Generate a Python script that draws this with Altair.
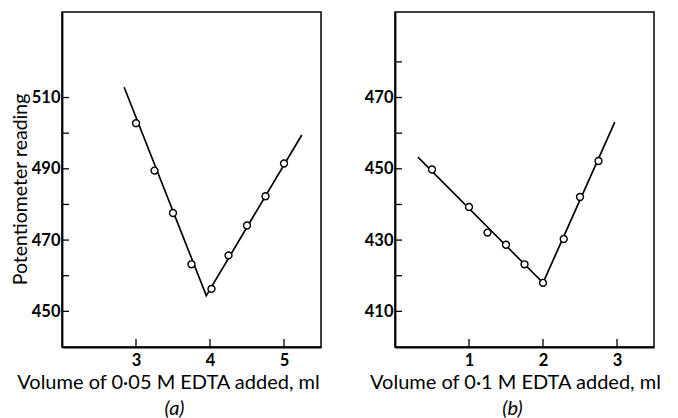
import altair as alt
import pandas as pd

FONT = "Lato"
W, H = 259, 335

# Panel (a): 0.05 M EDTA
a_vol = [3.0, 3.25, 3.5, 3.75, 4.02, 4.25, 4.5, 4.75, 5.0]
a_read = [502.8, 489.5, 477.6, 463.2, 456.3, 465.7, 474.1, 482.3, 491.5]
a_line_vol = [2.84, 3.95, 5.24]
a_line_read = [512.9, 454.4, 499.5]
a_xdom = [2.0, 5.5]
a_ydom = [440, 534]
a_xticks = [3, 4, 5]
a_yticks = [450, 460, 470, 480, 490, 500, 510]

# Panel (b): 0.1 M EDTA
b_vol = [0.5, 1.0, 1.25, 1.5, 1.75, 2.0, 2.28, 2.5, 2.75]
b_read = [449.8, 439.3, 432.1, 428.7, 423.2, 418.0, 430.3, 442.1, 452.2]
b_line_vol = [0.31, 2.0, 2.97]
b_line_read = [453.3, 418.0, 463.1]
b_xdom = [0.0, 3.5]
b_ydom = [400, 494]
b_xticks = [1, 2, 3]
b_yticks = [410, 420, 430, 440, 450, 460, 470, 480]


def panel(px, py, lx, ly, xdom, ydom, xticks, yticks, xtitle, ytitle, tag, title_x, tag_dx):
    pts = pd.DataFrame({"x": px, "y": py})
    ln = pd.DataFrame({"x": lx, "y": ly})
    xt = pd.DataFrame({"x": xticks})
    yt = pd.DataFrame({"y": yticks})
    xs = alt.Scale(domain=xdom, nice=False, zero=False)
    ys = alt.Scale(domain=ydom, nice=False, zero=False)
    xax = alt.Axis(values=xticks, tickSize=0, grid=False, domain=True, domainColor="black",
                   domainWidth=1.8, labelFont=FONT, labelFontSize=16.5, labelFontWeight="bold",
                   labelColor="black", labelPadding=5, title=xtitle, titleFont=FONT,
                   titleFontSize=20, titleFontWeight="normal", titleColor="black",
                   titlePadding=4, titleX=title_x)
    yax = alt.Axis(values=yticks, tickSize=0, grid=False, domain=True, domainColor="black",
                   domainWidth=1.8, labelFont=FONT, labelFontSize=16.5, labelFontWeight="bold",
                   labelColor="black", labelPadding=2,
                   labelExpr="datum.value % 20 == 10 ? datum.label : ''",
                   title=ytitle, titleFont=FONT, titleFontSize=19.5, titleFontWeight="normal",
                   titleColor="black", titlePadding=1, titleY=177)
    X = alt.X("x:Q", scale=xs, axis=xax)
    Y = alt.Y("y:Q", scale=ys, axis=yax)
    line = alt.Chart(ln).mark_line(color="black", strokeWidth=1.7).encode(x=X, y=Y)
    points = alt.Chart(pts).mark_point(shape="circle", filled=True, fill="white", stroke="black",
                                       strokeWidth=1.4, size=48, opacity=1).encode(x=X, y=Y)
    yticks_l = alt.Chart(yt).mark_rule(color="black", strokeWidth=1.3).encode(
        y=Y, x=alt.value(0), x2=alt.value(7))
    xticks_l = alt.Chart(xt).mark_rule(color="black", strokeWidth=1.3).encode(
        x=X, y=alt.value(H), y2=alt.value(H - 8))
    return alt.layer(line, yticks_l, xticks_l, points).properties(
        width=W, height=H,
        title=alt.TitleParams(tag, orient="bottom", font=FONT, fontSize=20, fontStyle="italic",
                              fontWeight="normal", color="black", anchor="middle",
                              frame="group", dx=tag_dx, offset=6))


pa = panel(a_vol, a_read, a_line_vol, a_line_read, a_xdom, a_ydom, a_xticks, a_yticks,
           "Volume of 0\u00b705 M EDTA added, ml", "Potentiometer  reading", "(a)", 106, -17)
pb = panel(b_vol, b_read, b_line_vol, b_line_read, b_xdom, b_ydom, b_xticks, b_yticks,
           "Volume of 0\u00b71 M EDTA added, ml", "", "(b)", 120, -12)

chart = alt.hconcat(pa, pb, spacing=74, bounds="flush").properties(
    padding={"left": 1, "top": 3, "right": 0, "bottom": 0}
).configure_view(stroke="black", strokeWidth=1.5)

chart.save("out.html", embed_options={"renderer": "svg", "actions": False})
